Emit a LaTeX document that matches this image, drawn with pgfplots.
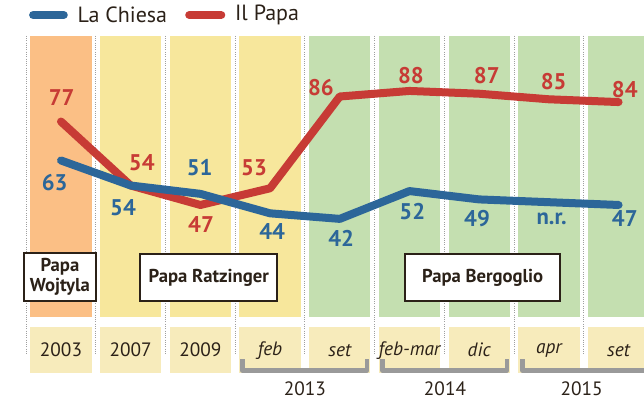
\documentclass[border=0pt]{standalone}
\usepackage{pgfplots}
\pgfplotsset{compat=1.18}
\usepackage{fontspec}
\setmainfont{PT Sans}
\definecolor{blu}{HTML}{2C6699}
\definecolor{ros}{HTML}{C73B35}
\definecolor{ora}{HTML}{FBBF85}
\definecolor{gia}{HTML}{F7E79C}
\definecolor{ver}{HTML}{C4DFB0}
\definecolor{pal}{HTML}{F7EBBB}
\definecolor{ink}{HTML}{2B2118}
\definecolor{brk}{HTML}{9A9A9A}

\begin{document}
\begin{tikzpicture}[
  num/.style={font=\bfseries\fontsize{17}{17}\selectfont},
  box/.style={draw=ink, line width=1.5pt, fill=white, inner sep=0pt, align=center,
    text=ink, font=\bfseries\fontsize{14}{15}\selectfont},
  lab/.style={text=ink, font=\fontsize{14.5}{14.5}\selectfont},
  ilab/.style={text=ink, font=\itshape\fontsize{14.5}{14.5}\selectfont},
]
\begin{axis}[
  width=483pt, height=302.25pt, scale only axis,
  xmin=-0.875, xmax=8.365, ymin=-24.2, ymax=120.7,
  hide axis, clip=false,
]
% column bands
\fill[ora] (axis cs:-0.44,6.7) rectangle (axis cs:0.44,107.8);
\pgfplotsinvokeforeach{1,2,3}{\fill[gia] (axis cs:#1-0.44,6.7) rectangle (axis cs:#1+0.44,107.8);}
\pgfplotsinvokeforeach{4,5,6,7}{\fill[ver] (axis cs:#1-0.44,6.7) rectangle (axis cs:#1+0.44,107.8);}
\fill[ver] (axis cs:7.56,6.7) rectangle (axis cs:8.365,107.8);
% bottom label cells
\pgfplotsinvokeforeach{0,1,2,3,4,5,6,7}{\fill[pal] (axis cs:#1-0.44,-13.4) rectangle (axis cs:#1+0.44,3.1);}
\fill[pal] (axis cs:7.56,-13.4) rectangle (axis cs:8.365,3.1);
% dotted separators
\pgfplotsinvokeforeach{-0.5,0.5,1.5,2.5,3.5,4.5,5.5,6.5,7.5}{
  \draw[gray!75, densely dotted, line width=0.7pt] (axis cs:#1,107.8) -- (axis cs:#1,-7);}

% data
\addplot[ros, line width=6pt, line cap=round, line join=round]
  coordinates {(0,77)(1,54)(2,47)(3,53)(4,86)(5,88)(6,87)(7,85)(8,84)};
\addplot[blu, line width=6pt, line cap=round, line join=round]
  coordinates {(0,63)(1,54)(2,51)(3,44)(4,42)(5,52)(6,49)(8,47)};

% value labels
\node[num, ros] at (axis cs:0.01,85.5) {77};
\node[num, ros] at (axis cs:1.16,62.1) {54};
\node[num, ros] at (axis cs:2.01,39.8) {47};
\node[num, ros] at (axis cs:2.77,60.3) {53};
\node[num, ros] at (axis cs:3.73,89.1) {86};
\node[num, ros] at (axis cs:5.02,93.4) {88};
\node[num, ros] at (axis cs:6.11,93.4) {87};
\node[num, ros] at (axis cs:7.07,91.2) {85};
\node[num, ros] at (axis cs:8.09,88.4) {84};
\node[num, blu] at (axis cs:-0.09,54.9) {63};
\node[num, blu] at (axis cs:0.89,45.9) {54};
\node[num, blu] at (axis cs:1.99,60.3) {51};
\node[num, blu] at (axis cs:3.03,37.3) {44};
\node[num, blu] at (axis cs:4.02,34.8) {42};
\node[num, blu] at (axis cs:5.04,44.5) {52};
\node[num, blu] at (axis cs:5.97,42.0) {49};
\node[num, blu] at (axis cs:7.04,42.0) {n.r.};
\node[num, blu] at (axis cs:8.09,42.0) {47};

% era boxes
\node[box, minimum width=54pt, minimum height=36pt] at (axis cs:-0.015,21.1) {Papa\\Wojtyla};
\node[box, minimum width=102.75pt, minimum height=35pt] at (axis cs:2.12,20.9) {Papa Ratzinger};
\node[box, minimum width=116pt, minimum height=35pt] at (axis cs:6.05,20.9) {Papa Bergoglio};

% bottom labels
\node[lab] at (axis cs:0,-5.2) {2003};
\node[lab] at (axis cs:1,-5.2) {2007};
\node[lab] at (axis cs:2,-5.2) {2009};
\node[ilab] at (axis cs:3,-5.2) {feb};
\node[ilab] at (axis cs:4,-5.2) {set};
\node[ilab] at (axis cs:5,-5.2) {feb-mar};
\node[ilab] at (axis cs:6,-5.2) {dic};
\node[ilab] at (axis cs:7,-5.2) {apr};
\node[ilab] at (axis cs:8,-5.2) {set};

% year brackets
\draw[brk, line width=3.5pt, line join=round] (axis cs:2.6,-8.4) -- (axis cs:2.6,-12.5) -- (axis cs:4.39,-12.5) -- (axis cs:4.39,-8.4);
\draw[brk, line width=3.5pt, line join=round] (axis cs:4.61,-8.4) -- (axis cs:4.61,-12.5) -- (axis cs:6.4,-12.5) -- (axis cs:6.4,-8.4);
\draw[brk, line width=3.5pt, line join=round] (axis cs:6.62,-8.4) -- (axis cs:6.62,-12.5) -- (axis cs:8.365,-12.5);
\node[lab] at (axis cs:3.5,-19.2) {2013};
\node[lab] at (axis cs:5.51,-19.2) {2014};
\node[lab] at (axis cs:7.47,-19.2) {2015};

% legend
\draw[blu, line width=6pt, line cap=round] (axis cs:-0.40,115.3) -- (axis cs:0.04,115.3);
\node[anchor=west, text=ink, font=\fontsize{16.5}{16.5}\selectfont] at (axis cs:0.17,115.3) {La Chiesa};
\draw[ros, line width=6pt, line cap=round] (axis cs:1.84,115.3) -- (axis cs:2.30,115.3);
\node[anchor=west, text=ink, font=\fontsize{16.5}{16.5}\selectfont] at (axis cs:2.43,115.3) {Il Papa};
\end{axis}
\pgfresetboundingbox
\path[use as bounding box] (current axis.south west) rectangle (current axis.north east);
\end{tikzpicture}
\end{document}
